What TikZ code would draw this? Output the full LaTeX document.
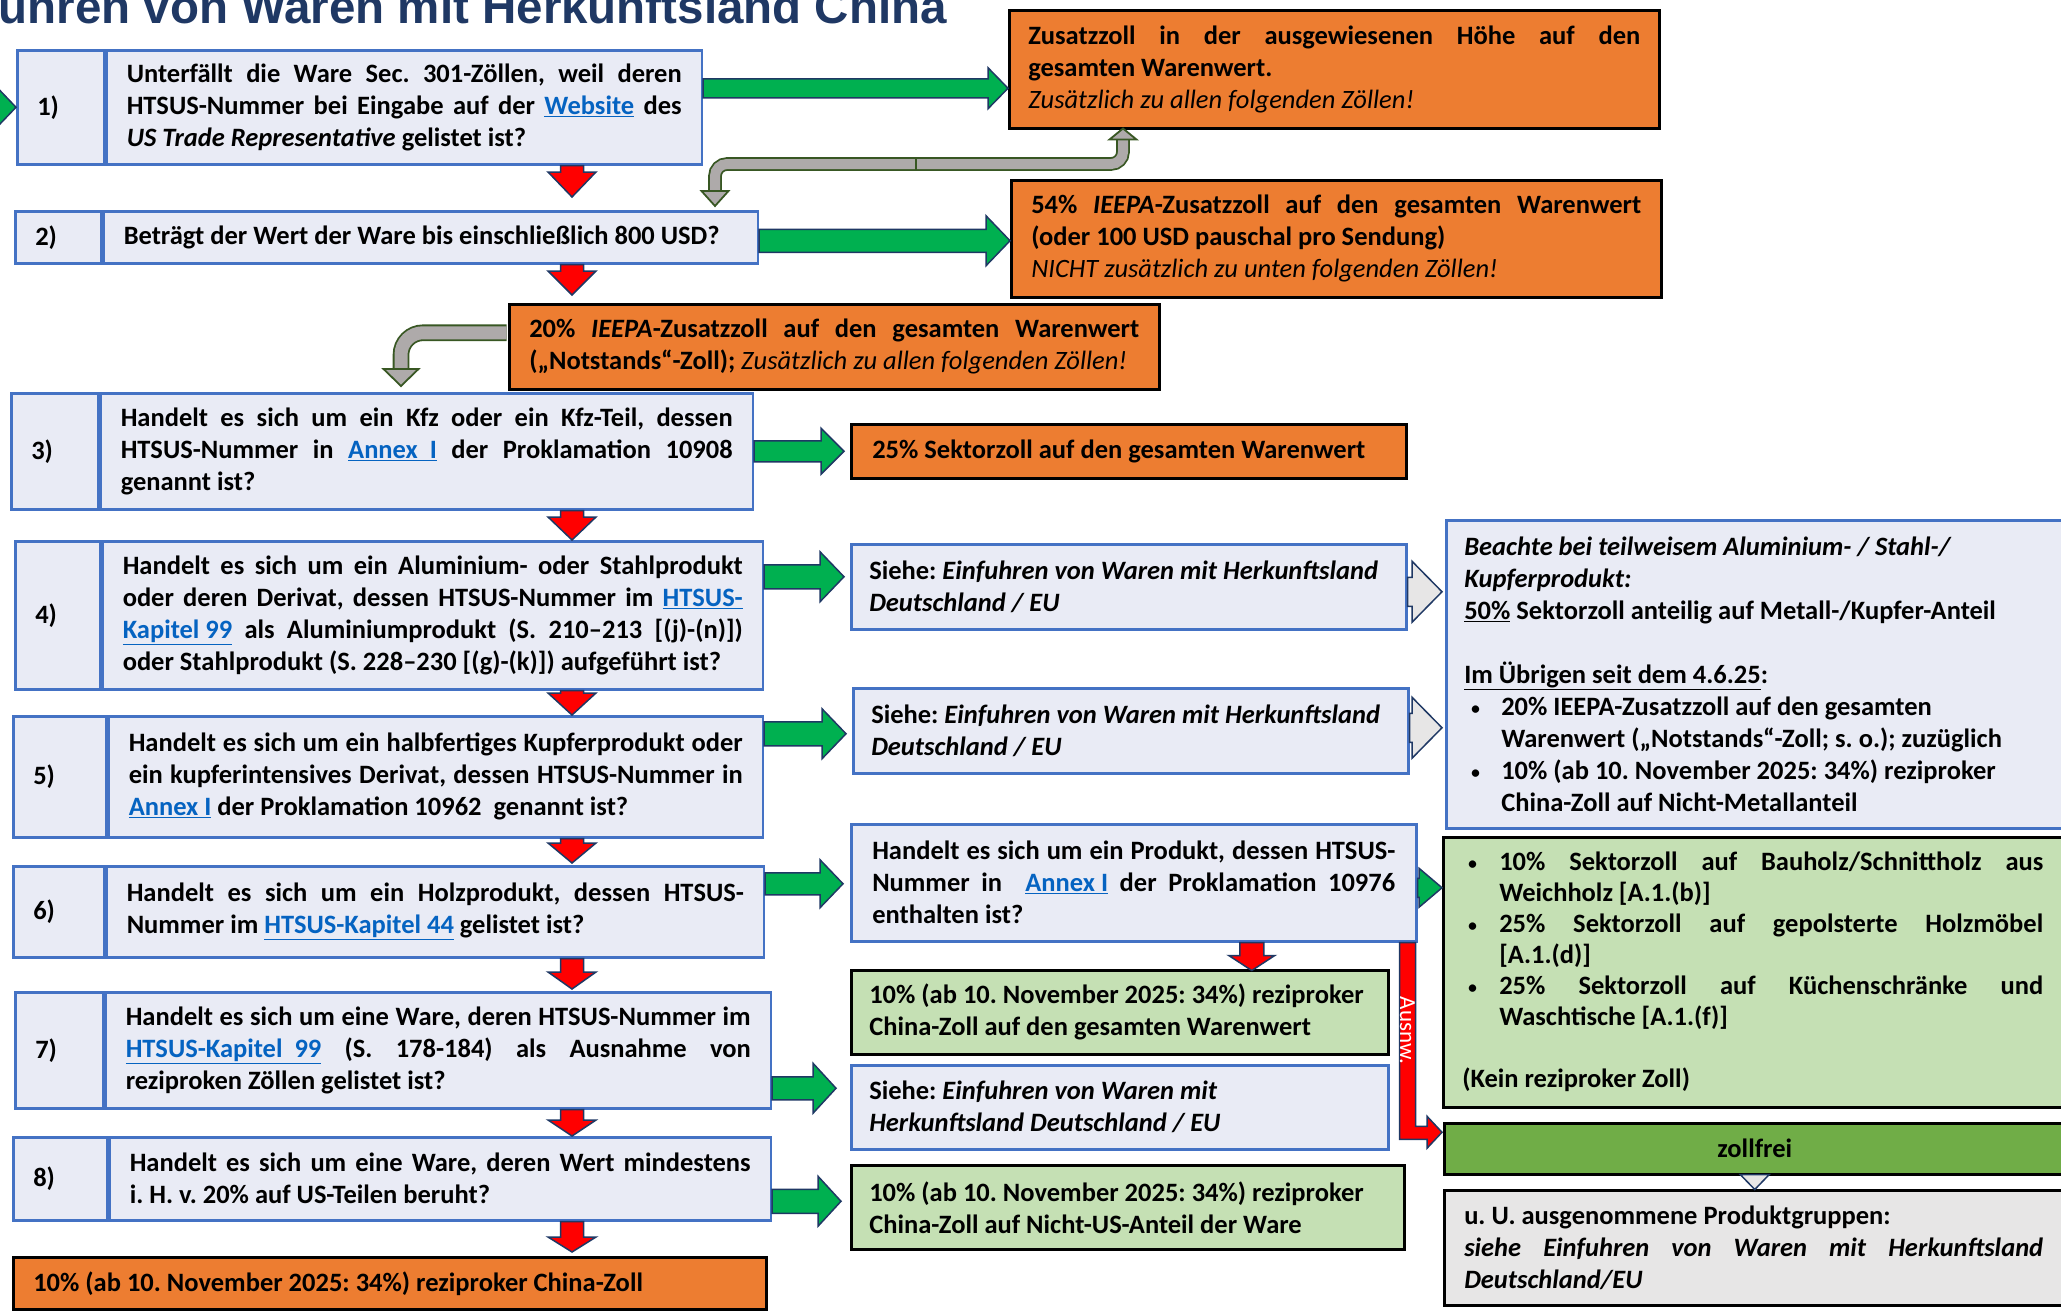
\documentclass[tikz,border=0pt]{standalone}
\usepackage{fontspec}
\setmainfont{Carlito}
\newfontfamily\titelfont{Liberation Sans}
\usetikzlibrary{calc}
\frenchspacing

\definecolor{qfill}{HTML}{E9EBF5}
\definecolor{qblue}{HTML}{4472C4}
\definecolor{zorange}{HTML}{ED7D31}
\definecolor{zgreen}{HTML}{C5E0B4}
\definecolor{fgreen}{HTML}{70AD47}
\definecolor{lgray}{HTML}{E7E6E6}
\definecolor{agreen}{HTML}{00B050}
\definecolor{navy}{HTML}{1F3864}
\definecolor{agray}{HTML}{AEAAAA}
\definecolor{dgreen}{HTML}{385723}
\definecolor{lblue}{HTML}{0563C1}

\newcommand{\lnk}[1]{\textcolor{lblue}{\underline{#1}}}
\newcommand{\jl}[2][\hsize]{\makebox[#1][s]{#2}}
\newcommand{\pkt}[1][6pt]{\makebox[37pt][l]{\hspace{#1}{\mdseries\fontsize{21}{21}\selectfont\textbullet}}}

% block arrow to the right: style, from, tip, shaft half, head half, head length
\newcommand{\rechts}[6]{\draw[#1] let \p1=(#2), \p2=(#3) in
  (\x1,{\y2+#4}) -- ({\x2-#6},{\y2+#4}) -- ({\x2-#6},{\y2+#5}) -- (\x2,\y2)
  -- ({\x2-#6},{\y2-#5}) -- ({\x2-#6},{\y2-#4}) -- (\x1,{\y2-#4}) -- cycle;}
% block arrow downwards: style, from, tip, shaft half, head half, head length
\newcommand{\runter}[6]{\draw[#1] let \p1=(#2), \p2=(#3) in
  ({\x2-#4},\y1) -- ({\x2-#4},{\y2+#6}) -- ({\x2-#5},{\y2+#6}) -- (\x2,\y2)
  -- ({\x2+#5},{\y2+#6}) -- ({\x2+#4},{\y2+#6}) -- ({\x2+#4},\y1) -- cycle;}

\tikzset{
  box/.style={font=\fontsize{26.5}{32}\selectfont\bfseries, inner ysep=0pt, anchor=north west, line width=2.5pt, align=flush left},
  frage/.style={box, draw=qblue, fill=qfill, inner xsep=20pt},
  nummer/.style={box, draw=qblue, fill=qfill, inner xsep=20pt, text width=#1-40pt},
  siehe/.style={box, draw=qblue, fill=qfill, inner xsep=18pt},
  zoll/.style={box, draw=black, fill=zorange, inner xsep=20pt},
  rezi/.style={box, draw=black, fill=zgreen, inner xsep=18pt},
  titel/.style={font=\titelfont\bfseries\fontsize{47.5}{50}\selectfont, text=navy, anchor=base east, inner sep=0pt},
  garrow/.style={draw=navy, fill=agreen, line width=1.5pt},
  rarrow/.style={draw=navy, fill=red, line width=1.5pt},
  larrow/.style={draw=navy, fill=lgray, line width=1.5pt},
  bogen/.style={draw=dgreen, line width=1.8pt, double=agray, double distance=10pt, rounded corners=12pt},
  bspitze/.style={draw=dgreen, fill=agray, line width=1.8pt}
}

\begin{document}
\begin{tikzpicture}[x=1pt, y=-1pt]
\useasboundingbox (0,0) rectangle (2061,1312);
\clip (0,0) rectangle (2061,1312);

\node[titel] (titel) at (947,23) {Einfuhren von Waren mit Herkunftsland China};

% Fragen
\node[nummer=87pt, minimum height=114pt] (n1) at (16,49) {1)};
\node[frage, text width=555pt, minimum height=114pt] (q1) at (n1.north east) {%
  \jl{Unterfällt die Ware Sec. 301-Zöllen, weil deren}\\
  \jl{HTSUS-Nummer bei Eingabe auf der \lnk{Website} des}\\
  \textit{US Trade Representative} gelistet ist?};

\node[nummer=86pt, minimum height=52pt] (n2) at (14,210) {2)};
\node[frage, text width=614pt, minimum height=52pt] (q2) at (n2.north east) {Beträgt der Wert der Ware bis einschließlich 800 USD?};

\node[nummer=87pt, minimum height=116pt] (n3) at (10,392) {3)};
\node[frage, text width=612pt, minimum height=116pt] (q3) at (n3.north east) {%
  \jl{Handelt es sich um ein Kfz oder ein Kfz-Teil, dessen}\\
  \jl{HTSUS-Nummer in \lnk{Annex\ \ I} der Proklamation 10908}\\
  genannt ist?};

\node[nummer=85pt, minimum height=148pt] (n4) at (14,540) {4)};
\node[frage, text width=620pt, minimum height=148pt] (q4) at (n4.north east) {%
  \jl{Handelt es sich um ein Aluminium- oder Stahlprodukt}\\
  \jl{oder deren Derivat, dessen HTSUS-Nummer im \lnk{HTSUS-}}\\
  \jl{\lnk{Kapitel 99} als Aluminiumprodukt (S. 210–213 [(j)-(n)])}\\
  oder Stahlprodukt (S. 228–230 [(g)-(k)]) aufgeführt ist?};

\node[nummer=93pt, minimum height=121pt] (n5) at (12,715) {5)};
\node[frage, text width=614pt, minimum height=121pt] (q5) at (n5.north east) {%
  \jl{Handelt es sich um ein halbfertiges Kupferprodukt oder}\\
  \jl{ein kupferintensives Derivat, dessen HTSUS-Nummer in}\\
  \lnk{Annex I} der Proklamation 10962\ \ genannt ist?};

\node[nummer=91pt, minimum height=91pt] (n6) at (12,865) {6)};
\node[frage, text width=617pt, minimum height=91pt] (q6) at (n6.north east) {%
  \jl{Handelt es sich um ein Holzprodukt, dessen HTSUS-}\\
  Nummer im \lnk{HTSUS-Kapitel 44} gelistet ist?};

\node[nummer=88pt, minimum height=116pt] (n7) at (14,991) {7)};
\node[frage, text width=625pt, minimum height=116pt] (q7) at (n7.north east) {%
  \jl{Handelt es sich um eine Ware, deren HTSUS-Nummer im}\\
  \jl{\lnk{HTSUS-Kapitel\ \ 99} (S. 178-184) als Ausnahme von}\\
  reziproken Zöllen gelistet ist?};

\node[nummer=94pt, minimum height=83pt] (n8) at (12,1136) {8)};
\node[frage, text width=621pt, minimum height=83pt] (q8) at (n8.north east) {%
  \jl{Handelt es sich um eine Ware, deren Wert mindestens}\\
  i. H. v. 20\% auf US-Teilen beruht?};

% Ergebnisse
\node[zoll, inner xsep=19pt, text width=612pt, minimum height=118pt] (r1) at (1008,9) {%
  \jl{Zusatzzoll in der ausgewiesenen Höhe auf den}\\
  gesamten Warenwert.\\
  \textmd{\textit{Zusätzlich zu allen folgenden Zöllen!}}};
\node[zoll, text width=610pt, minimum height=117pt] (r2) at (1010,179) {%
  \jl{54\% \textit{IEEPA}-Zusatzzoll auf den gesamten Warenwert}\\
  (oder 100 USD pauschal pro Sendung)\\
  \textmd{\textit{NICHT zusätzlich zu unten folgenden Zöllen!}}};
\node[zoll, text width=610pt, minimum height=85pt] (r3) at (508,303) {%
  \jl{20\% \textit{IEEPA}-Zusatzzoll auf den gesamten Warenwert}\\
  („Notstands“-Zoll); \textmd{\textit{Zusätzlich zu allen folgenden Zöllen!}}};
\node[zoll, inner xsep=21pt, text width=513pt, minimum height=54pt] (r4) at (850,423) {25\% Sektorzoll auf den gesamten Warenwert};
\node[siehe, text width=519pt, minimum height=85pt] (s4) at (850,543) {Siehe: \textit{Einfuhren von Waren mit Herkunftsland}\\\textit{Deutschland / EU}};
\node[siehe, text width=519pt, minimum height=85pt] (s5) at (852,687) {Siehe: \textit{Einfuhren von Waren mit Herkunftsland}\\\textit{Deutschland / EU}};
\node[siehe, inner xsep=21pt, text width=523pt, minimum height=117pt] (p6) at (850,823) {%
  \jl{Handelt es sich um ein Produkt, dessen HTSUS-}\\
  \jl{Nummer in\ \ \lnk{Annex I} der Proklamation 10976}\\
  enthalten ist?};
\node[rezi, text width=501pt, minimum height=84pt] (g7) at (850,969) {10\% (ab 10. November 2025: 34\%) reziproker\\China-Zoll auf den gesamten Warenwert};
\node[siehe, text width=501pt, minimum height=84pt] (s7) at (850,1064) {Siehe: \textit{Einfuhren von Waren mit}\\\textit{Herkunftsland Deutschland / EU}};
\node[rezi, text width=517pt, minimum height=84pt] (g8) at (850,1164) {10\% (ab 10. November 2025: 34\%) reziproker\\China-Zoll auf Nicht-US-Anteil der Ware};
\node[zoll, text width=713pt, minimum height=52pt] (f9) at (12,1256) {10\% (ab 10. November 2025: 34\%) reziproker China-Zoll};

\node[siehe, text width=599pt, minimum height=308pt] (bx) at (1445,519) {%
  \textit{Beachte bei teilweisem Aluminium- / Stahl-/}\\
  \textit{Kupferprodukt:}\\
  \underline{50\%} Sektorzoll anteilig auf Metall-/Kupfer-Anteil\\[32pt]
  \underline{Im Übrigen seit dem 4.6.25}:\\
  \pkt 20\% IEEPA-Zusatzzoll auf den gesamten\\
  \hspace*{37pt}Warenwert („Notstands“-Zoll; s. o.); zuzüglich\\
  \pkt 10\% (ab 10. November 2025: 34\%) reziproker\\
  \hspace*{37pt}China-Zoll auf Nicht-Metallanteil};
\node[rezi, inner xsep=19pt, text width=600pt, minimum height=270pt, font=\fontsize{26.5}{31}\selectfont\bfseries] (hz) at (1442,836) {%
  \pkt[5pt]\jl[544pt]{10\% Sektorzoll auf Bauholz/Schnittholz aus}\\
  \hspace*{37pt}Weichholz [A.1.(b)]\\
  \pkt[5pt]\jl[544pt]{25\% Sektorzoll auf gepolsterte Holzmöbel}\\
  \hspace*{37pt}[A.1.(d)]\\
  \pkt[5pt]\jl[544pt]{25\% Sektorzoll auf Küchenschränke und}\\
  \hspace*{37pt}Waschtische [A.1.(f)]\\[31pt]
  (Kein reziproker Zoll)};
\node[box, draw=black, fill=fgreen, inner xsep=0pt, align=flush center, minimum width=621pt, minimum height=51pt] (zf) at (1443,1122) {zollfrei};
\node[box, draw=black, fill=lgray, inner xsep=20pt, text width=597pt, minimum height=115pt] (gb) at (1443,1189) {%
  u. U. ausgenommene Produktgruppen:\\
  \textit{\jl[579pt]{siehe Einfuhren von Waren mit Herkunftsland}}\\
  \textit{Deutschland/EU}};

% Links
\draw[garrow] (n1.west) -- ++(-22,-23) -- ++(0,46) -- cycle;
\rechts{garrow}{q1.east}{$(r1.west)+(0,19)$}{9.5pt}{20.5pt}{20pt}
\rechts{garrow}{q2.east}{$(r2.west)+(0,2)$}{11.5pt}{25pt}{24pt}
\rechts{garrow}{q3.east}{$(r4.west)+(-6,0)$}{10.5pt}{23pt}{23pt}
\rechts{garrow}{q4.east}{$(s4.west)+(-6,-10)$}{12pt}{25pt}{24pt}
\rechts{garrow}{q5.east}{$(s5.west)+(-6,3)$}{12pt}{25pt}{24pt}
\rechts{garrow}{q6.east}{$(p6.west)+(-7,1)$}{11pt}{24pt}{23pt}
\rechts{garrow}{q7.east}{$(s7.west)+(-14,-19)$}{11.5pt}{25pt}{23pt}
\rechts{garrow}{q8.east}{$(g8.west)+(-9,-6)$}{12pt}{25pt}{23pt}
\rechts{garrow}{p6.east}{$(hz.west |- p6.east)+(0,5)$}{9.5pt}{19.5pt}{23pt}
\rechts{larrow}{s4.east}{$(bx.west |- s4.east)+(-3,5)$}{14.5pt}{30.5pt}{30pt}
\rechts{larrow}{s5.east}{$(bx.west |- s5.east)+(-3,-3)$}{14.5pt}{30.5pt}{30pt}

\coordinate (spalte) at (572,0);
\runter{rarrow}{q1.south}{$(spalte |- q2.north)+(0,-13)$}{11.5pt}{24pt}{25pt}
\runter{rarrow}{q2.south}{$(spalte |- r3.north)+(0,-8)$}{11.5pt}{24pt}{24pt}
\runter{rarrow}{q3.south}{spalte |- q4.north}{11.5pt}{24pt}{23pt}
\runter{rarrow}{q4.south}{spalte |- q5.north}{11.5pt}{24pt}{22pt}
\runter{rarrow}{q5.south}{$(spalte |- q6.north)+(0,-2)$}{11.5pt}{24pt}{20pt}
\runter{rarrow}{q6.south}{$(spalte |- q7.north)+(0,-2)$}{11.5pt}{24pt}{17pt}
\runter{rarrow}{q7.south}{spalte |- q8.north}{11.5pt}{24pt}{16pt}
\runter{rarrow}{q8.south}{$(spalte |- f9.north)+(0,-4)$}{11.5pt}{24pt}{15pt}
\runter{rarrow}{p6.south}{$(p6.south)+(118,28)$}{12pt}{23pt}{15pt}

% Ausnahme -> zollfrei
\draw[rarrow] let \p1=(p6.south east), \p2=(zf.west) in
  ({\x1-18pt},\y1) -- ({\x1-2pt},\y1) -- ({\x1-2pt},{\y2+22.5pt}) -- ({\x2-16pt},{\y2+22.5pt})
  -- ({\x2-16pt},{\y2+32.5pt}) -- ({\x2-1pt},{\y2+16.5pt}) -- ({\x2-16pt},{\y2+0.5pt})
  -- ({\x2-16pt},{\y2+9.5pt}) -- ({\x1-18pt},{\y2+9.5pt}) -- cycle;
\node[rotate=-90, text=white, font=\fontsize{23}{25}\selectfont, inner sep=0pt] (ausnw) at ($(p6.south east)+(-10,88)$) {Ausnw.};

\draw[larrow] ($(zf.south)+(-14.5,-1)$) -- ($(zf.south)+(14.5,-1)$) -- ($(zf.south)+(0,14)$) -- cycle;

% graue Pfeile
\coordinate (teil) at (916,164);
\coordinate (b1) at ($(q2.north east)+(-44,-19)$);
\coordinate (b2) at ($(r1.south west)+(115,10)$);
\draw[bogen] (teil) -| (b1);
\draw[bogen] (teil) -| (b2);
\draw[bspitze] ($(b1)+(-13.5,0)$) -- ($(b1)+(13.5,0)$) -- ($(b1)+(0,15)$) -- cycle;
\draw[bspitze] ($(b2)+(-13.5,0)$) -- ($(b2)+(13.5,0)$) -- ($(b2)+(0,-11)$) -- cycle;
\draw[dgreen, line width=1.8pt] ($(teil)+(0,-6.8)$) -- ($(teil)+(0,6.8)$);

\coordinate (b3) at ($(n3.north west)+(391,-23)$);
\draw[bogen, double distance=13pt, rounded corners=22pt] ($(r3.west)+(-1.3,-14)$) -| (b3);
\draw[bspitze] ($(b3)+(-17.5,0)$) -- ($(b3)+(17.5,0)$) -- ($(b3)+(0,17)$) -- cycle;
\end{tikzpicture}
\end{document}
